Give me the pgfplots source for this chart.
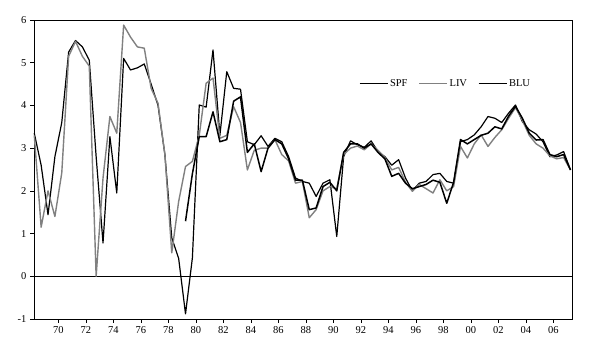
\documentclass[border=0pt]{standalone}
\usepackage{pgfplots}
\pgfplotsset{compat=1.18}
\usepackage{pgfplotstable}
\usepackage{fontspec}
\setmainfont{Liberation Serif}
\usetikzlibrary{calc}

\pgfplotstableread{
x y
1968.25 3.35
1968.75 2.6
1969.25 1.44
1969.75 2.8
1970.25 3.6
1970.75 5.25
1971.25 5.52
1971.75 5.37
1972.25 5.06
1972.75 2.8
1973.25 0.78
1973.75 3.27
1974.25 1.95
1974.75 5.1
1975.25 4.83
1975.75 4.88
1976.25 4.97
1976.75 4.5
1977.25 4.0
1977.75 2.85
1978.25 0.9
1978.75 0.42
1979.25 -0.88
1979.75 0.43
1980.25 4.01
1980.75 3.96
1981.25 5.3
1981.75 3.3
1982.25 4.79
1982.75 4.4
1983.25 4.38
1983.75 3.15
1984.25 3.08
1984.75 3.29
1985.25 3.04
1985.75 3.23
1986.25 3.15
1986.75 2.8
1987.25 2.3
1987.75 2.22
1988.25 2.18
1988.75 1.87
1989.25 2.18
1989.75 2.26
1990.25 0.93
1990.75 2.8
1991.25 3.17
1991.75 3.08
1992.25 3.02
1992.75 3.17
1993.25 2.92
1993.75 2.8
1994.25 2.6
1994.75 2.73
1995.25 2.3
1995.75 2.0
1996.25 2.18
1996.75 2.22
1997.25 2.38
1997.75 2.41
1998.25 2.22
1998.75 2.18
1999.25 3.15
1999.75 3.2
2000.25 3.31
2000.75 3.5
2001.25 3.74
2001.75 3.7
2002.25 3.6
2002.75 3.82
2003.25 4.01
2003.75 3.62
2004.25 3.43
2004.75 3.33
2005.25 3.15
2005.75 2.8
2006.25 2.84
2006.75 2.92
2007.25 2.49
}\spf

\pgfplotstableread{
x y
1968.25 3.3
1968.75 1.15
1969.25 2.0
1969.75 1.4
1970.25 2.42
1970.75 5.15
1971.25 5.5
1971.75 5.15
1972.25 4.92
1972.75 0.0
1973.25 2.3
1973.75 3.74
1974.25 3.35
1974.75 5.88
1975.25 5.6
1975.75 5.37
1976.25 5.34
1976.75 4.4
1977.25 4.05
1977.75 2.85
1978.25 0.55
1978.75 1.75
1979.25 2.57
1979.75 2.69
1980.25 3.3
1980.75 4.52
1981.25 4.64
1981.75 3.23
1982.25 3.3
1982.75 3.97
1983.25 3.6
1983.75 2.49
1984.25 2.95
1984.75 3.0
1985.25 3.0
1985.75 3.2
1986.25 2.85
1986.75 2.7
1987.25 2.18
1987.75 2.22
1988.25 1.37
1988.75 1.56
1989.25 2.0
1989.75 2.1
1990.25 2.05
1990.75 2.85
1991.25 3.0
1991.75 3.05
1992.25 2.96
1992.75 3.1
1993.25 2.95
1993.75 2.78
1994.25 2.49
1994.75 2.55
1995.25 2.2
1995.75 1.99
1996.25 2.15
1996.75 2.05
1997.25 1.95
1997.75 2.26
1998.25 2.0
1998.75 2.1
1999.25 3.04
1999.75 2.77
2000.25 3.1
2000.75 3.31
2001.25 3.04
2001.75 3.25
2002.25 3.43
2002.75 3.7
2003.25 3.95
2003.75 3.65
2004.25 3.3
2004.75 3.1
2005.25 3.0
2005.75 2.82
2006.25 2.75
2006.75 2.78
2007.25 2.49
}\liv

\pgfplotstableread{
x y
1979.25 1.29
1979.75 2.4
1980.25 3.27
1980.75 3.27
1981.25 3.85
1981.75 3.15
1982.25 3.2
1982.75 4.1
1983.25 4.2
1983.75 2.9
1984.25 3.1
1984.75 2.45
1985.25 3.0
1985.75 3.2
1986.25 3.1
1986.75 2.75
1987.25 2.25
1987.75 2.25
1988.25 1.56
1988.75 1.6
1989.25 2.1
1989.75 2.2
1990.25 2.0
1990.75 2.9
1991.25 3.1
1991.75 3.1
1992.25 3.0
1992.75 3.1
1993.25 2.9
1993.75 2.75
1994.25 2.34
1994.75 2.41
1995.25 2.18
1995.75 2.05
1996.25 2.1
1996.75 2.15
1997.25 2.25
1997.75 2.2
1998.25 1.71
1998.75 2.2
1999.25 3.2
1999.75 3.1
2000.25 3.2
2000.75 3.3
2001.25 3.35
2001.75 3.5
2002.25 3.45
2002.75 3.75
2003.25 3.98
2003.75 3.7
2004.25 3.35
2004.75 3.19
2005.25 3.2
2005.75 2.85
2006.25 2.8
2006.75 2.85
2007.25 2.49
}\blu

\begin{document}
\begin{tikzpicture}
\begin{axis}[
  scale only axis,
  width=538pt, height=299pt,
  xmin=1968.23, xmax=2007.36,
  ymin=-1, ymax=6,
  axis line style={line width=0.8pt},
  xtick={1970,1972,...,2006},
  xticklabels={70,72,74,76,78,80,82,84,86,88,90,92,94,96,98,00,02,04,06},
  minor x tick num=5,
  ytick={-1,0,...,6},
  tick align=outside,
  xtick pos=bottom, ytick pos=left,
  major tick length=4pt, minor tick length=2.5pt,
  tick style={black, line width=0.6pt},
  tick label style={font=\fontsize{10.5}{12}\selectfont},
  /pgf/number format/assume math mode=true,
  legend style={draw=none, fill=none, at={(0.765,0.786)}, anchor=center,
    font=\fontsize{10.5}{12}\selectfont, legend columns=3,
    /tikz/every even column/.append style={column sep=9pt}},
  legend image code/.code={\draw[#1, line width=1pt] (0pt,0pt) -- (28pt,0pt);},
  clip=false,
]
\draw[black, line width=0.6pt] (axis cs:1968.23,0) -- (axis cs:2007.36,0);
\addplot[black, line width=1.2pt, line join=round] table {\spf};
\addlegendentry{SPF}
\addplot[black!50, line width=1.4pt, line join=round] table {\liv};
\addlegendentry{LIV}
\addplot[black, line width=1.5pt, line join=round] table {\blu};
\addlegendentry{BLU}
\end{axis}
\path ($(current axis.south west)+(-34pt,-36pt)$) rectangle ($(current axis.north east)+(28pt,20pt)$);
\end{tikzpicture}
\end{document}
